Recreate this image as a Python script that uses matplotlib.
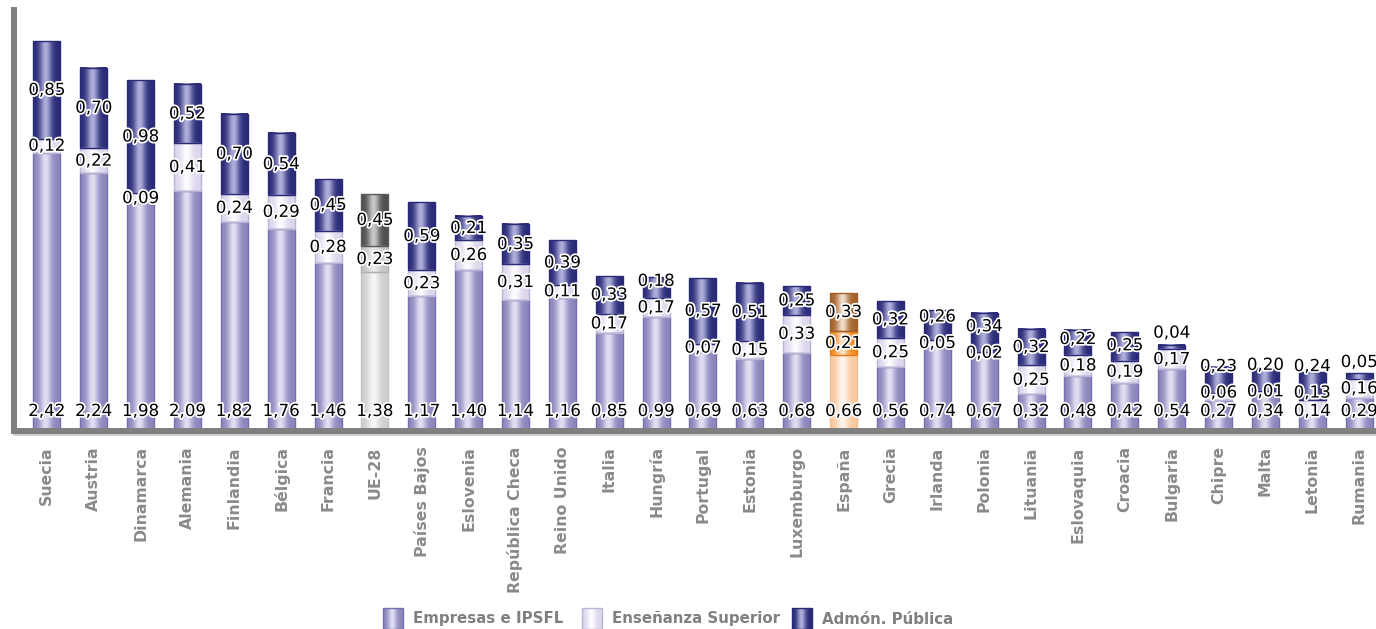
import numpy as np
import matplotlib
matplotlib.use('Agg')
import matplotlib.pyplot as plt
import matplotlib.patheffects as pe
from matplotlib.colors import to_rgb

paises = ['Suecia', 'Austria', 'Dinamarca', 'Alemania', 'Finlandia', 'Bélgica', 'Francia',
          'UE-28', 'Países Bajos', 'Eslovenia', 'República Checa', 'Reino Unido', 'Italia',
          'Hungría', 'Portugal', 'Estonia', 'Luxemburgo', 'España', 'Grecia', 'Irlanda',
          'Polonia', 'Lituania', 'Eslovaquia', 'Croacia', 'Bulgaria', 'Chipre', 'Malta',
          'Letonia', 'Rumania']
empresas = [2.42, 2.24, 1.98, 2.09, 1.82, 1.76, 1.46, 1.38, 1.17, 1.40, 1.14, 1.16, 0.85,
            0.99, 0.69, 0.63, 0.68, 0.66, 0.56, 0.74, 0.67, 0.32, 0.48, 0.42, 0.54, 0.27,
            0.34, 0.14, 0.29]
ensenanza = [0.12, 0.22, 0.09, 0.41, 0.24, 0.29, 0.28, 0.23, 0.23, 0.26, 0.31, 0.11, 0.17,
             0.17, 0.07, 0.15, 0.33, 0.21, 0.25, 0.05, 0.02, 0.25, 0.18, 0.19, 0.17, 0.06,
             0.01, 0.13, 0.16]
admon = [0.85, 0.70, 0.98, 0.52, 0.70, 0.54, 0.45, 0.45, 0.59, 0.21, 0.35, 0.39, 0.33,
         0.18, 0.57, 0.51, 0.25, 0.33, 0.32, 0.26, 0.34, 0.32, 0.22, 0.25, 0.04, 0.23,
         0.20, 0.24, 0.05]
series = ['Empresas e IPSFL', 'Enseñanza Superior', 'Admón. Pública']

# (borde, brillo, contorno) por serie
estilo = {
    'normal': [('#8b87bd', '#e2def2', '#7370ad'),
               ('#ddd6ec', '#fdfcff', '#b9b4d6'),
               ('#2a2b78', '#aeaedb', '#2a2a76')],
    'UE-28': [('#cfcfcf', '#f7f7f7', '#c4c4c4'),
              ('#c6c6c6', '#ececec', '#b0b0b0'),
              ('#4e4e4e', '#c8c8c8', '#5a5a5a')],
    'España': [('#f7c9a0', '#fff5ec', '#f2c094'),
               ('#ef8a1c', '#fde2c4', '#e07a16'),
               ('#a3622a', '#f0dcc8', '#a0602a')],
}


def gradiente(c_borde, c_brillo, n=64):
    t = np.linspace(0, 1, n)
    w = np.exp(-((t - 0.47) / 0.22) ** 2)[:, None]
    col = np.array(to_rgb(c_borde)) * (1 - w) + np.array(to_rgb(c_brillo)) * w
    return col[None, :, :]


W, H = 1376, 629
fig = plt.figure(figsize=(W / 100, H / 100), dpi=100)
ax = fig.add_axes([14 / W, (H - 431) / H, 1 - 14 / W, (431 - 10) / H])

x = np.arange(len(paises))
ancho = 0.576
bottoms = np.zeros(len(paises))
capas = [empresas, ensenanza, admon]
for k, vals in enumerate(capas):
    bars = ax.bar(x, vals, ancho, bottom=bottoms, facecolor='none', edgecolor='none',
                  zorder=2)
    for i, b in enumerate(bars):
        esq = estilo.get(paises[i], estilo['normal'])[k]
        x0, y0 = b.get_x(), b.get_y()
        ax.imshow(gradiente(esq[0], esq[1]), extent=[x0, x0 + b.get_width(), y0, y0 + b.get_height()],
                  aspect='auto', zorder=1, interpolation='bilinear')
        b.set_edgecolor(esq[2])
        b.set_linewidth(1.0)
    bottoms = bottoms + np.array(vals)

# etiquetas de valores
efecto = [pe.withStroke(linewidth=2.5, foreground='white')]
for i in range(len(paises)):
    e, s, a = empresas[i], ensenanza[i], admon[i]
    y_bot = 0.174
    y_mid = max(e + s / 2, y_bot + 0.16)
    y_top = max(e + s + a / 2, y_mid + 0.23)
    for y, v in [(y_bot, e), (y_mid, s), (y_top, a)]:
        ax.text(i, y, f'{v:.2f}'.replace('.', ','), ha='center', va='center', fontsize=12,
                color='black', path_effects=efecto, zorder=5)

ax.set_xlim(-0.70, 28.36)
ax.set_ylim(0, 3.66)
for lado in ['top', 'right']:
    ax.spines[lado].set_visible(False)
for lado in ['left', 'bottom']:
    ax.spines[lado].set_color('#808080')
    ax.spines[lado].set_linewidth(4.3)
    ax.spines[lado].set_zorder(3)
ax.set_yticks([])
ax.set_xticks(x)
ax.set_xticklabels(paises, rotation=90, ha='center', va='top', color='#8a8a8a',
                   fontweight='bold', fontsize=11.3)
ax.tick_params(axis='x', length=0, pad=11)

# leyenda y linea clara bajo el eje
lg = fig.add_axes([0, 0, 1, 1], zorder=-1)
lg.set_xlim(0, W)
lg.set_ylim(H, 0)
lg.axis('off')
lg.plot([14, W], [435, 435], color='#c8c8c8', lw=1.2)
pos_cuadro = [383, 582, 792]
for k, nombre in enumerate(series):
    esq = estilo['normal'][k]
    x0 = pos_cuadro[k]
    lg.imshow(gradiente(esq[0], esq[1]), extent=[x0, x0 + 20, 629, 608], aspect='auto',
              interpolation='bilinear')
    lg.add_patch(plt.Rectangle((x0, 608), 20, 21, fill=False, edgecolor=esq[2], lw=1))
    lg.text(x0 + 30, 619, nombre, ha='left', va='center', fontsize=10.8, fontweight='bold',
            color='#808080')
lg.set_xlim(0, W)
lg.set_ylim(H, 0)

fig.savefig('out.png', dpi=100)
